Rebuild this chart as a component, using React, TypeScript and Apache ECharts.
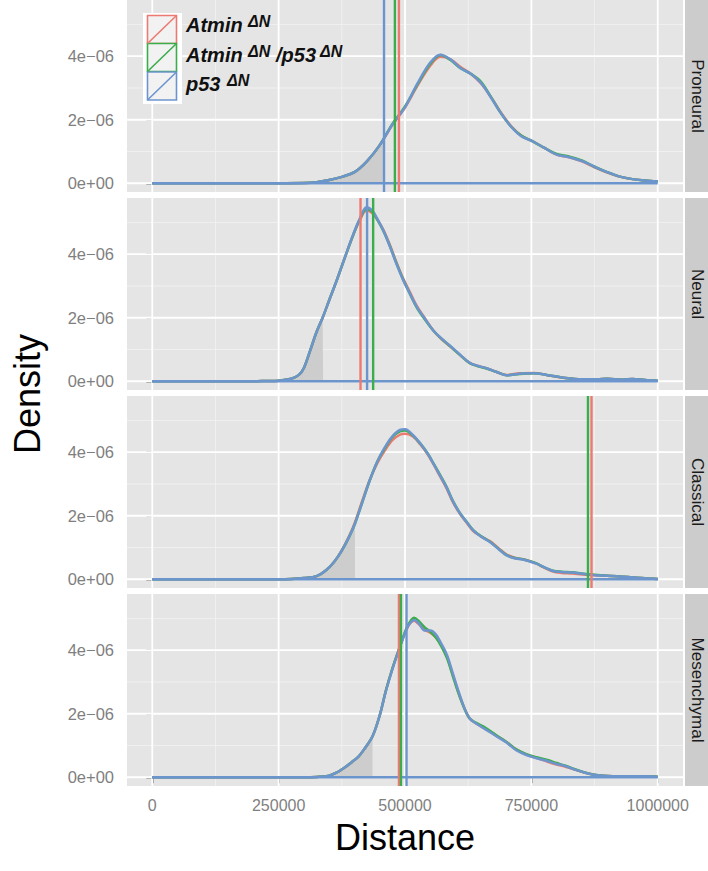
import React, { useEffect, useRef } from 'react';
import * as echarts from 'echarts';

// ---------- data (distance in bp, density in units of 1e-6) ----------
const panelNames = ['Proneural', 'Neural', 'Classical', 'Mesenchymal'];
const genotypes = ['Atmin', 'Atmin/p53', 'p53'];
const genotypeColors = ['#EC7A72', '#3BAD4B', '#6C95CE'];

const yTicks = [0, 2e-6, 4e-6];
const yTickLabels = ['0e+00', '2e\u221206', '4e\u221206'];
const yMinorTicks = [1e-6, 3e-6, 5e-6];
const xTicks = [0, 250000, 500000, 750000, 1000000];
const xTickLabels = ['0', '250000', '500000', '750000', '1000000'];
const xMinorTicks = [125000, 375000, 625000, 875000];

// Proneural
const pnX = [0, 250000, 300000, 325000, 350000, 375000, 400000, 425000, 450000, 475000, 500000, 525000, 550000, 570000, 590000, 610000, 630000, 650000, 670000, 690000, 710000, 730000, 750000, 775000, 800000, 825000, 850000, 875000, 900000, 925000, 950000, 975000, 1000000];
const pnRed = [0, 0, 0.005, 0.03, 0.1, 0.2, 0.35, 0.7, 1.2, 1.83, 2.38, 3.08, 3.7, 3.98, 3.9, 3.66, 3.45, 3.15, 2.72, 2.22, 1.8, 1.5, 1.34, 1.12, 0.9, 0.82, 0.69, 0.5, 0.34, 0.21, 0.13, 0.09, 0.06];
const pnGreen = [0, 0, 0.005, 0.03, 0.1, 0.2, 0.35, 0.7, 1.2, 1.87, 2.42, 3.12, 3.76, 4.04, 3.88, 3.62, 3.45, 3.2, 2.72, 2.2, 1.78, 1.5, 1.34, 1.12, 0.92, 0.84, 0.72, 0.52, 0.35, 0.21, 0.13, 0.09, 0.06];
const pnBlue = [0, 0, 0.005, 0.03, 0.1, 0.2, 0.35, 0.7, 1.2, 1.85, 2.4, 3.15, 3.8, 4.05, 3.9, 3.62, 3.45, 3.17, 2.7, 2.2, 1.78, 1.48, 1.34, 1.12, 0.9, 0.82, 0.7, 0.52, 0.35, 0.21, 0.13, 0.09, 0.06];
const pnVlines = [488000, 480000, 458500];
const pnShade = [458500, 1.37];

// Neural
const nX = [0, 200000, 225000, 250000, 275000, 290000, 300000, 312000, 325000, 337000, 350000, 365000, 380000, 397000, 410000, 424000, 435000, 444000, 457000, 470000, 483000, 496000, 510000, 523000, 540000, 556000, 572000, 589000, 608000, 628000, 645000, 661000, 680000, 701000, 727000, 755000, 780000, 810000, 850000, 880000, 900000, 930000, 950000, 975000, 1000000];
const nRed = [0, 0, 0.01, 0.02, 0.08, 0.2, 0.42, 0.95, 1.55, 2.0, 2.55, 3.18, 3.85, 4.58, 5.05, 5.38, 5.3, 5.12, 4.78, 4.3, 3.75, 3.25, 2.8, 2.38, 1.97, 1.6, 1.33, 1.1, 0.84, 0.58, 0.48, 0.41, 0.3, 0.2, 0.25, 0.26, 0.2, 0.12, 0.06, 0.06, 0.08, 0.05, 0.07, 0.04, 0.02];
const nGreen = [0, 0, 0.01, 0.02, 0.08, 0.2, 0.42, 0.95, 1.55, 2.0, 2.55, 3.18, 3.85, 4.58, 5.08, 5.42, 5.34, 5.12, 4.74, 4.26, 3.72, 3.22, 2.74, 2.33, 1.93, 1.6, 1.34, 1.11, 0.84, 0.57, 0.47, 0.4, 0.3, 0.19, 0.23, 0.25, 0.2, 0.12, 0.06, 0.06, 0.08, 0.05, 0.07, 0.04, 0.02];
const nBlue = [0, 0, 0.01, 0.02, 0.08, 0.2, 0.42, 0.95, 1.55, 2.0, 2.55, 3.18, 3.85, 4.6, 5.1, 5.48, 5.38, 5.15, 4.75, 4.25, 3.7, 3.2, 2.75, 2.35, 1.95, 1.6, 1.35, 1.12, 0.85, 0.58, 0.48, 0.41, 0.3, 0.19, 0.24, 0.25, 0.2, 0.12, 0.06, 0.06, 0.08, 0.05, 0.07, 0.04, 0.02];
const nVlines = [412000, 437000, 425000];
const nShade = [338000, 2.0];

// Classical
const cX = [0, 250000, 275000, 300000, 325000, 345000, 360000, 375000, 390000, 401000, 415000, 430000, 445000, 460000, 475000, 490000, 500000, 515000, 530000, 545000, 556000, 570000, 582000, 595000, 609000, 622000, 635000, 650000, 668000, 685000, 701000, 717000, 733000, 747000, 760000, 775000, 793000, 810000, 832000, 850000, 875000, 900000, 925000, 950000, 975000, 1000000];
const cRed = [0, 0, 0.01, 0.04, 0.1, 0.3, 0.55, 0.92, 1.38, 1.8, 2.45, 3.12, 3.65, 4.05, 4.38, 4.55, 4.58, 4.5, 4.25, 3.93, 3.63, 3.22, 2.87, 2.42, 2.05, 1.78, 1.52, 1.36, 1.2, 0.98, 0.78, 0.68, 0.63, 0.57, 0.49, 0.37, 0.24, 0.2, 0.18, 0.15, 0.13, 0.11, 0.09, 0.06, 0.03, 0.01];
const cGreen = [0, 0, 0.01, 0.04, 0.1, 0.3, 0.55, 0.9, 1.35, 1.75, 2.4, 3.1, 3.7, 4.12, 4.47, 4.66, 4.68, 4.53, 4.28, 3.96, 3.66, 3.27, 2.92, 2.46, 2.08, 1.81, 1.55, 1.36, 1.18, 0.96, 0.76, 0.67, 0.63, 0.57, 0.5, 0.38, 0.27, 0.24, 0.22, 0.18, 0.14, 0.11, 0.09, 0.06, 0.03, 0.01];
const cBlue = [0, 0, 0.01, 0.04, 0.1, 0.3, 0.55, 0.9, 1.35, 1.75, 2.4, 3.1, 3.7, 4.15, 4.5, 4.7, 4.72, 4.55, 4.28, 3.95, 3.65, 3.25, 2.9, 2.45, 2.07, 1.8, 1.54, 1.35, 1.17, 0.95, 0.75, 0.66, 0.62, 0.56, 0.49, 0.38, 0.26, 0.23, 0.21, 0.17, 0.13, 0.11, 0.09, 0.06, 0.03, 0.01];
const cVlines = [869000, 862000, null];
const cShade = [401000, 1.75];

// Mesenchymal
const mX = [0, 300000, 325000, 350000, 365000, 380000, 395000, 408000, 420000, 436000, 450000, 462000, 475000, 490000, 503000, 510000, 518000, 527000, 539000, 550000, 561000, 572000, 583000, 594000, 605000, 617000, 628000, 640000, 660000, 680000, 700000, 720000, 740000, 760000, 780000, 800000, 816000, 835000, 855000, 874000, 900000, 925000, 950000, 975000, 1000000];
const mRed = [0, 0, 0.01, 0.05, 0.15, 0.3, 0.48, 0.65, 0.9, 1.3, 1.95, 2.72, 3.42, 4.12, 4.65, 4.85, 4.93, 4.82, 4.64, 4.55, 4.4, 4.15, 3.8, 3.25, 2.7, 2.2, 1.85, 1.7, 1.52, 1.32, 1.12, 0.88, 0.72, 0.61, 0.5, 0.4, 0.34, 0.24, 0.15, 0.08, 0.04, 0.03, 0.03, 0.03, 0.02];
const mGreen = [0, 0, 0.01, 0.05, 0.15, 0.3, 0.48, 0.65, 0.9, 1.3, 1.95, 2.72, 3.42, 4.12, 4.7, 4.9, 5.02, 4.92, 4.72, 4.58, 4.4, 4.12, 3.75, 3.22, 2.68, 2.18, 1.85, 1.72, 1.55, 1.33, 1.12, 0.88, 0.73, 0.63, 0.55, 0.45, 0.37, 0.26, 0.15, 0.08, 0.04, 0.03, 0.03, 0.03, 0.02];
const mBlue = [0, 0, 0.01, 0.05, 0.15, 0.3, 0.48, 0.65, 0.9, 1.3, 1.95, 2.7, 3.4, 4.1, 4.66, 4.85, 4.95, 4.85, 4.62, 4.62, 4.5, 4.2, 3.85, 3.3, 2.75, 2.2, 1.85, 1.7, 1.5, 1.3, 1.1, 0.85, 0.7, 0.6, 0.52, 0.42, 0.36, 0.25, 0.15, 0.08, 0.04, 0.03, 0.03, 0.03, 0.02];
const mVlines = [488000, 492000, 503000];
const mShade = [435700, 1.3];

const densityUnit = 1e-6;
const xRange = [0, 1000000];

const panelData = [
  { x: pnX, curves: [pnRed, pnGreen, pnBlue], vlines: pnVlines, shade: pnShade },
  { x: nX, curves: [nRed, nGreen, nBlue], vlines: nVlines, shade: nShade },
  { x: cX, curves: [cRed, cGreen, cBlue], vlines: cVlines, shade: cShade },
  { x: mX, curves: [mRed, mGreen, mBlue], vlines: mVlines, shade: mShade },
];

// ---------- layout ----------
const FONT = '"Liberation Sans", Arial, Helvetica, sans-serif';
const PANEL_LEFT = 127;
const PANEL_WIDTH = 556;
const PANEL_HEIGHT = 192;
const PANEL_TOPS = [0, 198, 396, 594];
const Y_MIN = -2.75e-7;
const Y_MAX = 5.77e-6;
const X_MIN = -50000;
const X_MAX = 1050000;
const AXIS_GRAY = '#7F7F7F';
const CURVE_WIDTH = 2.5;
const TOP_Z = 100;

function nearestLabel(v: number, ticks: number[], labels: string[]) {
  let best = 0;
  for (let i = 1; i < ticks.length; i++) {
    if (Math.abs(ticks[i] - v) < Math.abs(ticks[best] - v)) best = i;
  }
  return labels[best];
}

function gridLineSeries(i: number, pts: number[][], color: string, width: number) {
  return {
    type: 'line', xAxisIndex: i, yAxisIndex: i, z: 1, silent: true,
    data: pts, showSymbol: false, symbol: 'none',
    lineStyle: { color, width }, emphasis: { disabled: true },
  };
}

function buildOption() {
  const grids: any[] = [];
  const xAxes: any[] = [];
  const yAxes: any[] = [];
  const series: any[] = [];

  panelData.forEach((p, i) => {
    const last = i === panelData.length - 1;
    grids.push({
      left: PANEL_LEFT, top: PANEL_TOPS[i], width: PANEL_WIDTH, height: PANEL_HEIGHT,
      show: true, backgroundColor: '#E5E5E5', borderWidth: 0, containLabel: false,
    });
    xAxes.push({
      type: 'value', gridIndex: i, min: X_MIN, max: X_MAX,
      axisLine: { show: false }, splitLine: { show: false }, minorSplitLine: { show: false },
      axisTick: { show: last, customValues: xTicks, length: 6, lineStyle: { color: AXIS_GRAY, width: 1.5 } },
      axisLabel: {
        show: last, customValues: xTicks, color: AXIS_GRAY, fontSize: 16, fontFamily: FONT, margin: 11,
        formatter: (v: number) => nearestLabel(v, xTicks, xTickLabels),
      },
    });
    yAxes.push({
      type: 'value', gridIndex: i, min: Y_MIN, max: Y_MAX,
      axisLine: { show: false }, splitLine: { show: false },
      axisTick: { show: true, customValues: yTicks, length: 6, lineStyle: { color: AXIS_GRAY, width: 1.5 } },
      axisLabel: {
        customValues: yTicks, color: AXIS_GRAY, fontSize: 16.5, fontFamily: FONT, margin: 13,
        formatter: (v: number) => nearestLabel(v, yTicks, yTickLabels),
      },
    });

    // background grid lines (minor, then major)
    xMinorTicks.forEach((v) => series.push(gridLineSeries(i, [[v, Y_MIN], [v, Y_MAX]], '#F2F2F2', 0.8)));
    yMinorTicks.forEach((v) => series.push(gridLineSeries(i, [[X_MIN, v], [X_MAX, v]], '#F2F2F2', 0.8)));
    xTicks.forEach((v) => series.push(gridLineSeries(i, [[v, Y_MIN], [v, Y_MAX]], '#FFFFFF', 1.8)));
    yTicks.forEach((v) => series.push(gridLineSeries(i, [[X_MIN, v], [X_MAX, v]], '#FFFFFF', 1.8)));

    // shaded lower tail under the p53 curve
    const blue = p.curves[2];
    const shadeData: number[][] = [];
    p.x.forEach((x, k) => { if (x <= p.shade[0]) shadeData.push([x, blue[k] * densityUnit]); });
    shadeData.push([p.shade[0], p.shade[1] * densityUnit]);
    series.push({
      type: 'line', xAxisIndex: i, yAxisIndex: i, z: 2, silent: true,
      data: shadeData, smooth: 0.35, showSymbol: false, symbol: 'none',
      lineStyle: { width: 0, opacity: 0 },
      areaStyle: { color: '#CDCDCD', opacity: 1 },
    });

    // density curves
    p.curves.forEach((c, g) => {
      series.push({
        type: 'line', xAxisIndex: i, yAxisIndex: i, z: 3, silent: true,
        name: genotypes[g],
        data: p.x.map((x, k) => [x, c[k] * densityUnit]),
        smooth: 0.35, showSymbol: false, symbol: 'none',
        lineStyle: { color: genotypeColors[g], width: CURVE_WIDTH },
      });
    });
    // density polygon bottom edge
    series.push({
      type: 'line', xAxisIndex: i, yAxisIndex: i, z: 3, silent: true,
      data: [[xRange[0], 0], [xRange[1], 0]], showSymbol: false, symbol: 'none',
      lineStyle: { color: genotypeColors[2], width: CURVE_WIDTH },
    });

    // vertical reference lines spanning the panel
    p.vlines.forEach((v, g) => {
      if (v === null) return;
      series.push({
        type: 'line', xAxisIndex: i, yAxisIndex: i, z: 4, silent: true,
        data: [[v, Y_MIN], [v, Y_MAX]], showSymbol: false, symbol: 'none',
        lineStyle: { color: genotypeColors[g], width: 2.4 },
      });
    });
  });

  const graphic: any[] = [];
  // facet strips
  panelNames.forEach((name, i) => {
    graphic.push({
      type: 'rect', silent: true, z: TOP_Z,
      shape: { x: 685, y: PANEL_TOPS[i], width: 24, height: PANEL_HEIGHT },
      style: { fill: '#CCCCCC' },
    });
    graphic.push({
      type: 'text', silent: true, z: TOP_Z + 1, x: 697, y: PANEL_TOPS[i] + PANEL_HEIGHT / 2, rotation: -Math.PI / 2,
      style: { text: name, fontSize: 17, fontFamily: FONT, fill: '#1A1A1A', textAlign: 'center', textVerticalAlign: 'middle' },
    });
  });
  // axis titles
  graphic.push({
    type: 'text', silent: true, z: TOP_Z, x: 27, y: 394, rotation: Math.PI / 2,
    style: { text: 'Density', fontSize: 36, fontFamily: FONT, fill: '#000', textAlign: 'center', textVerticalAlign: 'middle' },
  });
  graphic.push({
    type: 'text', silent: true, z: TOP_Z, x: 405, y: 837,
    style: { text: 'Distance', fontSize: 36, fontFamily: FONT, fill: '#000', textAlign: 'center', textVerticalAlign: 'middle' },
  });

  // legend (drawn above the panel)
  graphic.push({ type: 'rect', silent: true, z: TOP_Z, shape: { x: 143, y: 13, width: 39, height: 91 }, style: { fill: '#FFFFFF' } });
  const keyTops = [15.5, 43.5, 72];
  keyTops.forEach((t, g) => {
    graphic.push({
      type: 'rect', silent: true, z: TOP_Z + 1, shape: { x: 147.5, y: t, width: 29, height: 28 },
      style: { fill: '#F2F2F2', stroke: genotypeColors[g], lineWidth: 1.6 },
    });
    graphic.push({
      type: 'line', silent: true, z: TOP_Z + 2, shape: { x1: 147.5, y1: t + 28, x2: 176.5, y2: t },
      style: { stroke: genotypeColors[g], lineWidth: 1.6 },
    });
  });
  const legendMain = { fontSize: 20, fontWeight: 'bold', fontStyle: 'italic', fontFamily: FONT, fill: '#111', textAlign: 'left', textVerticalAlign: 'middle' };
  const legendSup = { fontSize: 16, fontWeight: 'bold', fontStyle: 'italic', fontFamily: FONT, fill: '#111', textAlign: 'left', textVerticalAlign: 'middle' };
  const legendTexts = [
    { x: 186, y: 25, text: 'Atmin', s: legendMain },
    { x: 248, y: 21.5, text: '\u0394N', s: legendSup },
    { x: 186, y: 55, text: 'Atmin', s: legendMain },
    { x: 248, y: 51, text: '\u0394N', s: legendSup },
    { x: 276, y: 55, text: '/p53', s: legendMain },
    { x: 320, y: 51, text: '\u0394N', s: legendSup },
    { x: 186, y: 84, text: 'p53', s: legendMain },
    { x: 227, y: 80.5, text: '\u0394N', s: legendSup },
  ];
  legendTexts.forEach((t) => {
    graphic.push({ type: 'text', silent: true, z: TOP_Z + 3, x: t.x, y: t.y, style: { ...t.s, text: t.text } });
  });

  return {
    animation: false,
    textStyle: { fontFamily: FONT },
    grid: grids,
    xAxis: xAxes,
    yAxis: yAxes,
    series,
    graphic,
  };
}

export default function App() {
  const ref = useRef<HTMLDivElement>(null);
  useEffect(() => {
    if (!ref.current) return;
    const chart = echarts.init(ref.current, undefined, { renderer: 'svg' });
    chart.setOption(buildOption() as any);
    return () => chart.dispose();
  }, []);
  return (
    <div
      ref={ref}
      style={{ position: 'absolute', left: 0, top: 0, width: 708, height: 871, background: '#FFFFFF' }}
    />
  );
}
